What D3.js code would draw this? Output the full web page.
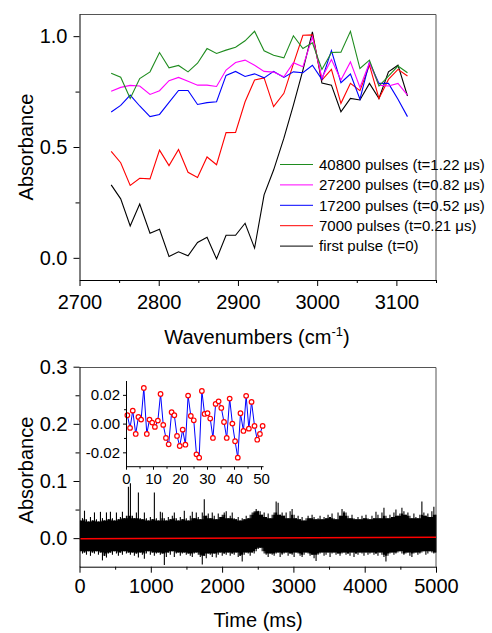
<!DOCTYPE html>
<html><head><meta charset="utf-8">
<script src="https://cdn.jsdelivr.net/npm/d3@7"></script>
<style>body{margin:0;background:#fff} svg{display:block} text{font-family:"Liberation Sans",Arial,sans-serif}</style>
</head><body><svg id="c" width="492" height="633"></svg>
<script>
// ---------- Top panel data ----------
const wavenumbers = [2740,2752,2764,2776,2789,2801,2813,2825,2837,2849,2861,2873,2885,2897,2909,2921,2933,2945,2958,2970,2982,2994,3006,3018,3030,3042,3054,3066,3078,3090,3102,3114];
const pulses40800 = [0.833,0.815,0.719,0.809,0.839,0.926,0.857,0.868,0.839,0.878,0.944,0.922,0.937,0.950,0.979,1.022,0.934,0.914,0.902,1.002,0.944,0.970,0.850,0.926,0.928,1.022,0.854,0.892,0.775,0.820,0.865,0.835];
const pulses27200 = [0.752,0.769,0.778,0.775,0.737,0.754,0.799,0.814,0.797,0.779,0.779,0.773,0.847,0.881,0.892,0.869,0.841,0.838,0.817,0.880,0.862,0.997,0.812,0.895,0.802,0.884,0.769,0.880,0.779,0.775,0.787,0.734];
const pulses17200 = [0.658,0.688,0.734,0.685,0.637,0.647,0.701,0.755,0.755,0.692,0.700,0.704,0.823,0.841,0.818,0.830,0.812,0.841,0.814,0.839,0.835,0.869,0.805,0.935,0.790,0.829,0.716,0.883,0.787,0.787,0.715,0.637];
const pulses7000  = [0.480,0.429,0.327,0.359,0.356,0.486,0.416,0.489,0.386,0.362,0.455,0.420,0.565,0.566,0.704,0.802,0.812,0.682,0.742,0.875,1.004,1.006,0.802,0.850,0.697,0.787,0.754,0.869,0.719,0.805,0.850,0.820];
const firstPulse  = [0.329,0.266,0.144,0.243,0.111,0.129,0.006,0.027,0.009,0.069,0.093,-0.005,0.102,0.102,0.156,0.044,0.284,0.396,0.540,0.689,0.847,1.019,0.788,0.779,0.659,0.719,0.712,0.787,0.719,0.839,0.869,0.730];
const legendLabels = ["40800 pulses (t=1.22 \u03bcs)","27200 pulses (t=0.82 \u03bcs)","17200 pulses (t=0.52 \u03bcs)","7000 pulses (t=0.21 \u03bcs)","first pulse (t=0)"];
const topXTicks = [2700,2800,2900,3000,3100];
const topYTicks = [0.0,0.5,1.0];

// ---------- Bottom panel data ----------
// noise trace: per 28 ms bin, max and min (x 0.001 absorbance)
const noiseStartMs = 14, noiseStepMs = 28;
const noiseHi = [31,35,48,33,29,37,31,45,33,29, 46,35,31,45,33,46,35,31,45,33, 37,46,35,39,90,96,39,35,45,80, 35,33,45,35,31,37,33,80,35,31, 46,45,35,31,37,33,39,45,35,31, 37,33,48,35,31,39,46,35,45,37, 33,45,68,39,43,35,45,39,33,43, 37,41,45,47,35,39,45,35,33,37, 31,35,33,39,35,41,45,47,51,48, 47,41,45,37,43,35,41,45,64,62, 41,45,39,45,35,47,51,41,35,39, 33,37,31,35,39,35,41,37,33,35, 39,33,37,35,41,37,43,35,33,45, 39,51,47,45,39,35,41,35,33,37, 33,39,35,41,35,33,39,35,46,41, 35,45,53,39,35,41,37,45,50,39, 43,53,47,41,45,39,35,43,37,35, 41,64,45,39,43,37,47,55,41];
const noiseLo = [-23,-27,-25,-29,-23,-31,-25,-27,-23,-29, -25,-39,-31,-34,-27,-25,-29,-23,-27,-31, -25,-29,-23,-27,-25,-29,-25,-31,-27,-34, -25,-29,-36,-27,-23,-29,-25,-31,-27,-25, -29,-27,-47,-33,-25,-29,-23,-33,-27,-25, -31,-27,-25,-29,-27,-31,-33,-27,-25,-29, -33,-46,-31,-35,-27,-29,-33,-27,-34,-29, -25,-31,-27,-29,-25,-31,-27,-29,-25,-33, -31,-41,-29,-25,-27,-31,-25,-27,-23,-19, -17,-23,-27,-29,-33,-27,-29,-31,-27,-25, -33,-29,-27,-25,-31,-27,-29,-33,-25,-27, -31,-33,-29,-25,-27,-31,-29,-35,-40,-29, -27,-25,-31,-29,-25,-33,-27,-25,-29,-27, -31,-27,-25,-29,-27,-31,-25,-33,-27,-29, -25,-27,-31,-25,-29,-27,-25,-29,-27,-31, -25,-29,-33,-41,-31,-27,-25,-29,-27,-25, -23,-27,-29,-27,-25,-31,-33,-27,-25,-29, -27,-25,-23,-29,-27,-23,-25,-27,-25];
const fitTimes = [0, 5000];
const fitValues = [-0.0012, 0.0016];
const botXTicks = [0,1000,2000,3000,4000,5000];
const botYTicks = [0.0,0.1,0.2,0.3];

// ---------- Inset data ----------
const insetX = [0.5,1.5,2.5,3.6,4.6,5.6,6.6,7.7,8.7,9.7,10.7,11.8,12.8,13.8,14.8,15.8,16.9,17.9,18.9,19.9,21.0,22.0,23.0,24.0,25.1,26.1,27.1,28.1,29.1,30.2,31.2,32.2,33.2,34.3,35.3,36.3,37.3,38.4,39.4,40.4,41.4,42.4,43.5,44.5,45.5,46.5,47.6,48.6,49.6,50.6];
const insetY = [0.0058,-0.0030,0.0090,-0.0072,0.0046,0.0028,0.0248,-0.0072,0.0028,0.0007,-0.0023,0.0021,0.0206,-0.0009,-0.0100,-0.0144,0.0079,0.0058,-0.0086,-0.0156,-0.0042,-0.0147,0.0195,0.0053,0.0023,-0.0214,-0.0237,0.0227,0.0067,0.0072,0.0035,-0.0100,0.0137,0.0155,0.0109,0.0011,-0.0100,0.0174,0.0000,-0.0123,-0.0237,0.0072,-0.0051,0.0193,-0.0035,0.0151,-0.0016,-0.0112,-0.0072,-0.0016];
const insetXTicks = [0,10,20,30,40,50];
const insetYTicks = [-0.02,0.00,0.02];

// ---------- Drawing ----------
const svg = d3.select("#c");
const FONT = "Liberation Sans, Arial, sans-serif";

function styleAxis(g, fs) {
  g.attr("font-size", fs).attr("font-family", FONT);
  g.selectAll("path.domain").attr("stroke", "#000");
  g.selectAll(".tick line").attr("stroke", "#000");
  g.selectAll("text").attr("fill", "#000");
}
function minor(g) { g.select("path.domain").remove(); g.selectAll("text").remove(); g.selectAll(".tick line").attr("stroke","#000"); }

// Top panel
const xT = d3.scaleLinear([2700,3150],[79.5,436]);
const yT = d3.scaleLinear([-0.1,1.1],[280,14]);
svg.append("path").attr("d",`M79.5,14.5H436V280`).attr("fill","none").attr("stroke","#555");
const series = [
  {v:firstPulse, c:"#000000"},
  {v:pulses7000, c:"#ff0000"},
  {v:pulses17200, c:"#0000ff"},
  {v:pulses27200, c:"#ff00ff"},
  {v:pulses40800, c:"#1f8c1f"}
];
const lineT = d3.line().x((d,i)=>xT(wavenumbers[i])).y(d=>yT(d));
series.forEach(s => svg.append("path").attr("d", lineT(s.v)).attr("fill","none").attr("stroke", s.c).attr("stroke-width",1.1));

let g = svg.append("g").attr("transform","translate(0,280)").call(d3.axisBottom(xT).tickValues([2750,2850,2950,3050,3150]).tickSize(3).tickFormat(""));
minor(g);
g = svg.append("g").attr("transform","translate(0,280)").call(d3.axisBottom(xT).tickValues(topXTicks).tickSize(6).tickPadding(9).tickSizeOuter(0).tickFormat(d3.format("d")));
styleAxis(g, 20);
g = svg.append("g").attr("transform","translate(79.5,0)").call(d3.axisLeft(yT).tickValues([0.25,0.75]).tickSize(4).tickFormat(""));
minor(g);
g = svg.append("g").attr("transform","translate(79.5,0)").call(d3.axisLeft(yT).tickValues(topYTicks).tickSize(6).tickPadding(6).tickSizeOuter(0).tickFormat(d3.format(".1f")));
styleAxis(g, 20);

// legend (order: green, magenta, blue, red, black)
const legColors = ["#1f8c1f","#ff00ff","#0000ff","#ff0000","#000000"];
legendLabels.forEach((lab,i) => {
  const y = 164.5 + i*20.4;
  svg.append("line").attr("x1",280).attr("x2",313).attr("y1",y).attr("y2",y).attr("stroke",legColors[i]).attr("stroke-width",1);
  svg.append("text").attr("x",319).attr("y",y).attr("dy","0.35em").attr("font-size",15).text(lab);
});

// axis titles
svg.append("text").attr("transform","translate(33,147) rotate(-90)").attr("text-anchor","middle").attr("font-size",20).text("Absorbance");
const wt = svg.append("text").attr("x",257).attr("y",344).attr("text-anchor","middle").attr("font-size",20);
wt.append("tspan").text("Wavenumbers (cm");
wt.append("tspan").attr("font-size",13).attr("dy",-8).text("-1");
wt.append("tspan").attr("dy",8).text(")");

// Bottom panel
const xB = d3.scaleLinear([0,5000],[79.5,436]);
const yB = d3.scaleLinear([-0.05,0.3],[566.7,366.7]);
svg.append("path").attr("d",`M79.5,367.5H436V566.7`).attr("fill","none").attr("stroke","#555");

// solid core of the noise band (limited by neighbouring bins)
const n = noiseHi.length;
const coreRows = noiseHi.map((h,k) => {
  const hs = [noiseHi[Math.max(0,k-1)], h, noiseHi[Math.min(n-1,k+1)]];
  const ls = [noiseLo[Math.max(0,k-1)], noiseLo[k], noiseLo[Math.min(n-1,k+1)]];
  return {t: noiseStartMs + noiseStepMs*k, hi: d3.min(hs)/1000, lo: d3.max(ls)/1000};
});
svg.append("path").attr("d", d3.area().curve(d3.curveStep).x(d=>xB(d.t)).y0(d=>yB(d.lo)).y1(d=>yB(d.hi))(coreRows)).attr("fill","#000");
// individual extreme strokes
noiseHi.forEach((h,k) => {
  const t = noiseStartMs + noiseStepMs*k;
  svg.append("line").attr("x1", xB(t)).attr("x2", xB(t)).attr("y1", yB(h/1000)).attr("y2", yB(noiseLo[k]/1000)).attr("stroke","#000").attr("stroke-width",1.1);
});
svg.append("path").attr("d", d3.line().x((d,i)=>xB(fitTimes[i])).y(d=>yB(d))(fitValues)).attr("fill","none").attr("stroke","#ff0000").attr("stroke-width",1.5);

g = svg.append("g").attr("transform","translate(0,566.7)").call(d3.axisBottom(xB).tickValues([500,1500,2500,3500,4500]).tickSize(3).tickFormat(""));
minor(g);
g = svg.append("g").attr("transform","translate(0,566.7)").call(d3.axisBottom(xB).tickValues(botXTicks).tickSize(6).tickPadding(6.5).tickSizeOuter(0).tickFormat(d3.format("d")));
styleAxis(g, 20);
g = svg.append("g").attr("transform","translate(79.5,0)").call(d3.axisLeft(yB).tickValues([0.05,0.15,0.25]).tickSize(4).tickFormat(""));
minor(g);
g = svg.append("g").attr("transform","translate(79.5,0)").call(d3.axisLeft(yB).tickValues(botYTicks).tickSize(6).tickPadding(6).tickSizeOuter(0).tickFormat(d3.format(".1f")));
styleAxis(g, 20);

svg.append("text").attr("transform","translate(33,470) rotate(-90)").attr("text-anchor","middle").attr("font-size",20).text("Absorbance");
svg.append("text").attr("x",258).attr("y",627).attr("text-anchor","middle").attr("font-size",20).text("Time (ms)");

// Inset
const xI = d3.scaleLinear([0,50],[126,261]);
const yI = d3.scaleLinear([-0.03,0.03],[466.7,380.5]);
svg.append("path").attr("d", d3.line().x((d,i)=>xI(insetX[i])).y(d=>yI(d))(insetY)).attr("fill","none").attr("stroke","#0000ff").attr("stroke-width",1);
svg.selectAll("circle.in").data(insetY).join("circle").attr("class","in")
  .attr("cx",(d,i)=>xI(insetX[i])).attr("cy",d=>yI(d)).attr("r",2.3)
  .attr("fill","#fff").attr("stroke","#ff0000").attr("stroke-width",1.2);
g = svg.append("g").attr("transform","translate(0,466.7)").call(d3.axisBottom(xI).tickValues([5,15,25,35,45]).tickSize(2).tickFormat(""));
minor(g);
g = svg.append("g").attr("transform","translate(0,466.7)").call(d3.axisBottom(xI).tickValues(insetXTicks).tickSize(3).tickPadding(4).tickSizeOuter(0).tickFormat(d3.format("d")));
styleAxis(g, 15);
g.select("path.domain").attr("d","M126,0H263.5");
g = svg.append("g").attr("transform","translate(126,0)").call(d3.axisLeft(yI).tickValues([-0.01,0.01]).tickSize(2).tickFormat(""));
minor(g);
g = svg.append("g").attr("transform","translate(126,0)").call(d3.axisLeft(yI).tickValues(insetYTicks).tickSize(3).tickPadding(3).tickSizeOuter(0).tickFormat(d=>d.toFixed(2)));
styleAxis(g, 15);
</script></body></html>
